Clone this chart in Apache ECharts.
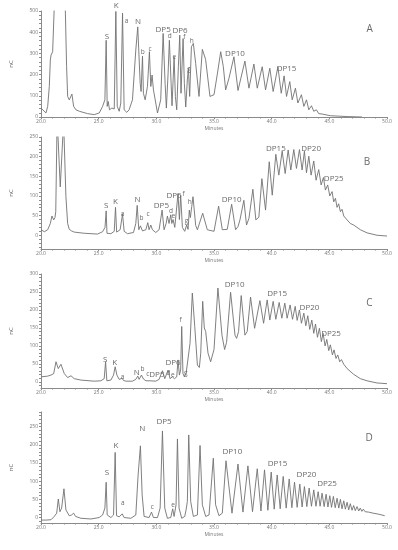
<!DOCTYPE html>
<html><head><meta charset="utf-8">
<script src="https://cdn.jsdelivr.net/npm/echarts@6/dist/echarts.min.js"></script>
<style>html,body{margin:0;padding:0;background:#fff}#c{width:398px;height:550px}</style>
</head><body><div id="c"></div>
<script>
// ---- Panel A trace (time in minutes, response)
const tA=[20.00,20.14,20.43,20.58,20.72,20.81,20.87,21.01,21.15,21.60,22.11,22.22,22.31,22.45,22.54,22.68,22.83,23.03,23.32,24.04,24.61,25.05,25.34,25.54,25.65,25.74,25.83,25.94,26.14,26.35,26.49,26.61,26.78,26.92,27.07,27.21,27.44,27.64,27.93,28.22,28.39,28.60,28.68,28.80,28.88,29.03,29.23,29.40,29.52,29.63,29.75,29.95,30.10,30.38,30.59,30.76,30.87,31.02,31.13,31.28,31.36,31.54,31.65,31.77,31.91,32.03,32.14,32.32,32.43,32.55,32.69,32.78,32.89,33.04,33.21,33.41,33.70,33.99,34.27,34.65,35.00,35.29,35.58,35.81,36.01,36.30,36.73,37.08,37.68,38.03,38.46,38.75,39.18,39.47,39.84,40.13,40.54,40.83,41.08,41.29,41.57,41.78,42.06,42.27,42.58,42.79,43.02,43.22,43.45,43.65,43.88,44.08,44.37,45.09,46.54,47.83];
const vA=[42,34,19,50,144,269,292,308,520,1500,503,237,97,81,84,108,50,34,27,16,11,19,50,81,362,50,73,34,42,38,498,50,27,66,490,34,22,34,81,316,425,159,120,287,112,81,144,308,144,198,128,66,19,81,394,159,42,206,362,159,53,284,97,34,237,386,112,370,159,47,175,230,97,331,347,253,97,319,272,97,105,203,308,237,128,183,284,125,264,136,250,136,237,128,230,120,237,112,194,97,167,81,136,66,105,50,81,34,53,27,34,16,14,6,2,0];
// ---- Panel B trace
const tB=[20.00,20.29,20.58,20.81,20.95,21.10,21.21,21.28,21.40,21.67,21.96,22.16,22.31,22.45,22.65,22.74,22.88,23.75,24.90,25.34,25.55,25.65,25.72,26.06,26.35,26.46,26.56,26.86,27.07,27.21,27.50,28.02,28.22,28.34,28.48,28.62,28.68,28.80,29.09,29.26,29.37,29.52,29.66,29.95,30.24,30.50,30.67,30.85,30.96,31.10,31.25,31.34,31.45,31.60,31.74,31.88,32.00,32.11,32.26,32.46,32.63,32.75,32.86,32.95,33.07,33.18,33.41,33.56,34.02,34.42,35.00,35.40,35.72,36.15,36.53,36.87,37.08,37.25,37.59,37.82,38.03,38.37,38.63,38.89,39.15,39.47,39.79,40.05,40.36,40.62,40.91,41.17,41.43,41.66,41.92,42.15,42.41,42.64,42.84,43.02,43.22,43.42,43.65,43.85,44.08,44.29,44.49,44.66,44.86,45.04,45.24,45.38,45.53,45.67,45.81,45.96,46.10,46.25,46.39,46.54,46.68,46.82,46.97,47.11,47.40,47.69,48.27,49.13,50.00];
const vB=[14,9,14,30,49,39,45,60,300,123,290,98,30,15,11,14,8,5,3,9,20,62,5,4,10,71,8,14,54,10,4,7,30,76,14,24,29,11,14,32,14,26,14,7,14,64,14,30,49,30,52,30,40,20,25,106,40,102,20,10,26,15,64,45,73,98,25,14,56,14,10,74,14,15,79,14,22,39,89,26,43,117,39,46,144,64,187,102,206,153,214,157,217,166,218,170,218,166,214,159,201,153,189,140,167,128,147,115,128,100,111,85,94,71,80,60,66,49,54,39,44,30,35,26,20,14,6,0,-2];
// ---- Panel C trace
const tC=[20.00,20.58,20.87,21.10,21.30,21.50,21.73,22.02,22.31,22.60,22.88,23.46,24.61,25.19,25.48,25.60,25.71,26.06,26.29,26.43,26.58,26.78,26.95,27.04,27.15,27.36,27.93,28.22,28.39,28.51,28.71,28.88,29.10,29.26,29.46,29.95,30.24,30.53,30.73,31.02,31.19,31.39,31.57,31.77,31.88,32.00,32.11,32.20,32.31,32.43,32.58,32.75,32.92,33.12,33.33,33.56,33.73,33.85,34.02,34.16,34.28,34.48,34.71,35.00,35.34,35.69,35.92,36.09,36.44,36.82,36.96,37.13,37.36,37.68,37.88,38.17,38.52,38.98,39.30,39.61,39.84,40.13,40.36,40.65,40.88,41.14,41.34,41.60,41.81,42.04,42.21,42.41,42.58,42.79,42.96,43.13,43.30,43.48,43.65,43.80,43.97,44.14,44.31,44.46,44.63,44.78,44.95,45.09,45.27,45.41,45.58,45.73,45.90,46.05,46.25,46.54,47.11,47.69,48.27,49.13,50.00];
const vC=[14,16,19,23,56,37,49,23,12,17,9,5,2,3,9,56,3,5,19,42,19,7,6,10,4,2,2,7,16,7,19,8,3,8,3,2,7,31,9,33,9,14,9,14,61,19,33,154,23,14,23,19,107,247,154,47,40,80,224,150,140,80,56,90,261,130,90,110,249,130,121,140,240,130,140,236,149,226,163,228,172,224,174,221,177,219,177,214,174,210,171,200,163,191,156,184,146,172,135,161,124,149,112,135,100,118,87,103,75,89,65,75,56,62,49,37,21,9,3,-3,-5];
// ---- Panel D trace
const tD=[20.00,20.43,20.87,21.15,21.36,21.50,21.64,21.79,21.99,22.16,22.45,22.65,22.83,23.00,23.46,24.33,25.05,25.34,25.54,25.65,25.74,26.06,26.29,26.43,26.55,26.78,27.04,27.21,27.79,28.22,28.42,28.62,28.77,28.94,29.37,29.58,29.75,30.10,30.33,30.53,30.73,30.96,31.25,31.42,31.54,31.71,31.83,31.97,32.20,32.46,32.58,32.69,32.81,32.98,33.21,33.56,33.79,33.99,34.28,34.57,34.94,35.14,35.43,35.72,36.04,36.56,37.08,37.51,37.94,38.34,38.75,39.07,39.38,39.67,39.96,40.22,40.48,40.74,41.00,41.26,41.52,41.75,41.98,42.21,42.44,42.64,42.84,43.05,43.25,43.45,43.65,43.84,44.03,44.20,44.37,44.55,44.72,44.88,45.04,45.19,45.35,45.51,45.67,45.82,45.96,46.10,46.25,46.39,46.54,46.68,46.82,46.97,47.11,47.25,47.40,47.55,47.68,47.82,47.95,48.10,48.25,48.40,48.80,49.30,49.80];
const vD=[-7,-7,-6,3,12,51,16,26,79,21,5,7,12,3,-2,-4,0,7,26,97,7,0,7,179,5,2,10,0,-2,7,117,197,62,3,0,15,0,0,26,238,26,-2,0,24,3,35,216,26,-2,3,21,44,227,44,3,7,198,35,3,7,163,35,5,12,156,12,147,15,142,16,134,18,131,20,125,23,117,24,113,26,106,27,97,28,92,29,85,30,81,31,76,31,71,31,67,30,64,29,60,28,58,27,53,26,50,24,46,23,42,21,38,20,33,19,30,18,26,17,23,16,19,15,12,9,5];

// ---- Peak annotations
const lblTextA=['S','K','a','N','b','c','DP5','d','DP6','e','f','g','h','DP10','DP15','A'];
const lblTA=[25.71,26.52,27.41,28.42,28.83,29.46,30.59,31.16,32.06,31.57,32.43,32.83,33.07,36.82,41.29,48.50];
const lblVA=[381,527,453,448,305,320,414,381,405,281,375,225,359,300,230,412];
const lblTextB=['S','K','a','N','b','c','DP5','d','e','DP6','f','g','h','DP10','DP15','DP20','DP25','B'];
const lblTB=[25.65,26.46,27.07,28.36,28.71,29.29,30.44,31.28,31.48,31.54,32.37,32.61,32.89,36.53,40.36,43.42,45.38,48.27];
const lblVB=[75,85,53,91,43,53,76,62,49,101,104,37,83,91,219,219,144,185];
const lblTextC=['S','K','a','N','b','c','DP5','d','e','DP6','f','g','DP10','DP15','DP20','DP25','C'];
const lblTC=[25.57,26.40,27.07,28.31,28.80,29.26,30.05,31.05,31.42,31.45,32.11,32.55,36.79,40.48,43.28,45.15,48.47];
const lblVC=[63,54,14,25,35,21,21,23,19,53,171,23,270,244,207,135,219];
const lblTextD=['S','K','a','N','c','DP5','e','DP10','DP15','DP20','DP25','D'];
const lblTD=[25.71,26.49,27.10,28.77,29.66,30.67,31.45,36.59,40.51,43.02,44.80,48.44];
const lblVD=[124,197,39,243,28,264,35,181,149,117,92,218];

// ---- Axis ranges / tick labels
const xLabels=[20,25,30,35,40,45,50];
const yLabelsA=[0,100,200,300,400,500];
const yLabelsB=[0,50,100,150,200,250];
const yLabelsC=[0,50,100,150,200,250,300];
const yLabelsD=[0,50,100,150,200,250];
const yRange=[[0,500],[-35,250],[-17,300],[-15,290]];
const yMinorStep=[20,10,10,10];

const grids=[{top:11,height:106},{top:137,height:112},{top:274,height:114},{top:412,height:111}];
const traces=[[tA,vA],[tB,vB],[tC,vC],[tD,vD]];
const labels=[[lblTextA,lblTA,lblVA],[lblTextB,lblTB,lblVB],[lblTextC,lblTC,lblVC],[lblTextD,lblTD,lblVD]];
const yLabelSets=[yLabelsA,yLabelsB,yLabelsC,yLabelsD];

const axisColor='#8a8a8a';
const FONT="'Open Sans', 'Liberation Sans', sans-serif";
const LBLFONT="'Liberation Sans Narrow', 'Open Sans', sans-serif";

const option={animation:false,grid:[],xAxis:[],yAxis:[],series:[]};
for(let i=0;i<4;i++){
  option.grid.push({left:40,right:11,top:grids[i].top,height:grids[i].height});
  option.xAxis.push({type:'value',gridIndex:i,min:20,max:50,interval:5,
    axisLine:{onZero:false,lineStyle:{color:axisColor,width:1}},
    axisTick:{length:2,lineStyle:{color:axisColor}},
    minorTick:{show:true,splitNumber:5,length:1.5,lineStyle:{color:axisColor}},
    splitLine:{show:false},
    axisLabel:{fontSize:5,color:'#777',margin:2,fontFamily:FONT,formatter:v=>v.toFixed(1)},
    name:'Minutes',nameLocation:'middle',nameGap:9,nameTextStyle:{fontSize:5,color:'#777',fontFamily:FONT}});
  const ticks=[];
  for(let v=Math.ceil(yRange[i][0]/yMinorStep[i])*yMinorStep[i];v<=yRange[i][1];v+=yMinorStep[i]) ticks.push(v);
  option.yAxis.push({type:'value',gridIndex:i,min:yRange[i][0],max:yRange[i][1],
    axisLine:{show:true,lineStyle:{color:axisColor,width:1}},
    axisTick:{show:true,length:2,customValues:ticks,lineStyle:{color:axisColor}},
    splitLine:{show:false},
    axisLabel:{fontSize:5,color:'#777',margin:3,fontFamily:FONT,customValues:yLabelSets[i]},
    name:'nC',nameLocation:'middle',nameGap:27,nameRotate:90,nameTextStyle:{fontSize:6,color:'#666',fontFamily:FONT}});
  const [ts,vs]=traces[i];
  option.series.push({type:'line',xAxisIndex:i,yAxisIndex:i,data:ts.map((t,k)=>[t,vs[k]]),
    symbol:'none',smooth:false,clip:true,lineStyle:{color:'#727272',width:0.9},silent:true});
  const [txt,lt,lv]=labels[i];
  option.series.push({type:'scatter',xAxisIndex:i,yAxisIndex:i,clip:false,symbolSize:0,silent:true,
    data:txt.map((s,k)=>{
      const panel=(k===txt.length-1);
      const small=/^[a-h]$/.test(s);
      return {value:[lt[k],lv[k]],name:s,label:{show:true,position:'inside',formatter:s,
        fontSize:panel?10:(small?6.5:8),color:'#444',fontFamily:panel?FONT:LBLFONT}};
    })});
}
const chart=echarts.init(document.getElementById('c'),null,{renderer:'canvas'});
chart.setOption(option);
</script></body></html>
